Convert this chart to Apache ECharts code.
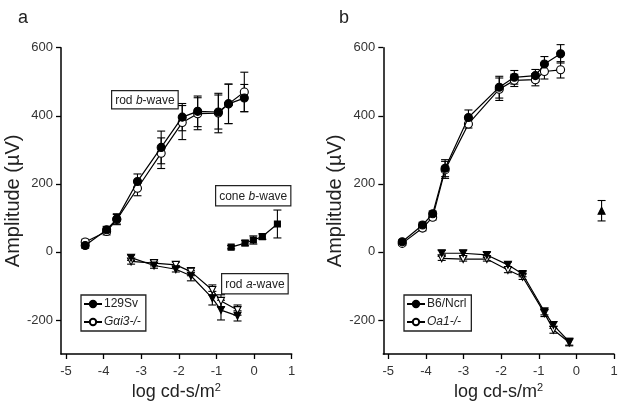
<!DOCTYPE html>
<html><head><meta charset="utf-8">
<script src="https://cdn.jsdelivr.net/npm/echarts@6/dist/echarts.min.js"></script>
<style>html,body{margin:0;padding:0;background:#fff}#c{width:624px;height:413px}</style>
</head><body><div id="c"></div>
<script>
const xTicks = [-5, -4, -3, -2, -1, 0, 1];
const yTicks = [-200, 0, 200, 400, 600];

// Panel a
const aRodBX = [-4.49, -3.92, -3.65, -3.10, -2.47, -1.91, -1.50, -0.95, -0.68, -0.26];
const aRodBWT = [19, 65, 97, 207, 307, 396, 413, 411, 435, 452];
const aRodBWTErr = [8, 10, 15, 22, 48, 40, 45, 50, 58, 40];
const aRodBKO = [29, 60, 95, 187, 290, 380, 406, 408, 435, 470];
const aRodBKOErr = [8, 10, 15, 22, 45, 50, 47, 58, 58, 58];
const aRodAX = [-3.27, -2.66, -2.08, -1.68, -1.11, -0.88, -0.44];
const aRodAWT = [-17, -40, -51, -70, -136, -171, -188];
const aRodAWTErr = [8, 8, 8, 15, 20, 29, 15];
const aRodAKO = [-28, -33, -38, -58, -112, -144, -171];
const aRodAKOErr = [8, 8, 8, 12, 15, 18, 15];
const aConeX = [-0.61, -0.24, -0.02, 0.22, 0.62];
const aCone = [14, 26, 35, 45, 82];
const aConeErr = [5, 8, 12, 8, 41];

// Panel b
const bRodBX = [-4.63, -4.09, -3.82, -3.49, -2.87, -2.05, -1.65, -1.09, -0.85, -0.42];
const bRodBWT = [30, 79, 112, 246, 395, 484, 513, 518, 552, 582];
const bRodBWTErr = [5, 8, 8, 25, 22, 32, 20, 18, 22, 27];
const bRodBKO = [25, 70, 102, 241, 376, 478, 504, 506, 530, 535];
const bRodBKOErr = [5, 8, 8, 25, 12, 33, 18, 18, 22, 24];
const bRodAX = [-3.58, -3.01, -2.38, -1.82, -1.43, -0.85, -0.61, -0.19];
const bRodAWT = [-4, -4, -9, -38, -65, -175, -215, -264];
const bRodAWTErr = [8, 8, 8, 8, 8, 10, 10, 10];
const bRodAKO = [-19, -21, -21, -53, -73, -180, -229, -266];
const bRodAKOErr = [6, 6, 6, 8, 8, 10, 10, 10];
const bConeX = [0.67];
const bCone = [121];
const bConeErr = [30];

const FONT = 'Liberation Sans, Arial, sans-serif';

function errSeries(x, y, e, idx) {
  return {
    type: 'custom', xAxisIndex: idx, yAxisIndex: idx, silent: true, z: 1, animation: false,
    data: x.map((v, i) => [v, y[i] - e[i], y[i] + e[i]]),
    encode: {x: 0, y: [1, 2]},
    renderItem: (params, api) => {
      const lo = api.coord([api.value(0), api.value(1)]);
      const hi = api.coord([api.value(0), api.value(2)]);
      const w = 4;
      const st = {stroke: '#000', lineWidth: 1.1};
      return {type: 'group', children: [
        {type: 'line', shape: {x1: lo[0], y1: lo[1], x2: hi[0], y2: hi[1]}, style: st},
        {type: 'line', shape: {x1: lo[0] - w, y1: lo[1], x2: lo[0] + w, y2: lo[1]}, style: st},
        {type: 'line', shape: {x1: hi[0] - w, y1: hi[1], x2: hi[0] + w, y2: hi[1]}, style: st}
      ]};
    }
  };
}

function lineSeries(name, x, y, idx, symbol, filled, rotate, size) {
  return {
    type: 'line', name, xAxisIndex: idx, yAxisIndex: idx,
    data: x.map((v, i) => [v, y[i]]),
    symbol, symbolSize: size || 7, symbolRotate: rotate || 0, showSymbol: true,
    lineStyle: {color: '#000', width: 1.2},
    itemStyle: {color: filled ? '#000' : '#fff', borderColor: '#000', borderWidth: 1.1},
    z: filled ? 3 : 2, animation: false, silent: true
  };
}

function xAxis(idx) {
  return {
    type: 'value', gridIndex: idx, min: -5.133, max: 1,
    axisLine: {onZero: false, lineStyle: {color: '#000', width: 1.5}},
    axisTick: {customValues: xTicks, length: 5, lineStyle: {color: '#000', width: 1.3}},
    axisLabel: {customValues: xTicks, color: '#333', fontSize: 13, fontFamily: FONT, margin: 11},
    splitLine: {show: false},
    name: 'log cd-s/m{s|2}', nameLocation: 'middle', nameGap: 18,
    nameTextStyle: {color: '#222', fontSize: 18, fontFamily: FONT,
      rich: {s: {fontSize: 11, verticalAlign: 'top', padding: [0, 0, 8, 0], color: '#222', fontFamily: FONT}}}
  };
}
function yAxis(idx) {
  return {
    type: 'value', gridIndex: idx, min: -300, max: 600,
    axisLine: {onZero: false, lineStyle: {color: '#000', width: 1.5}},
    axisTick: {customValues: yTicks, length: 5, lineStyle: {color: '#000', width: 1.3}},
    axisLabel: {customValues: yTicks, color: '#333', fontSize: 13, fontFamily: FONT, margin: 8},
    splitLine: {show: false},
    name: 'Amplitude (µV)', nameLocation: 'middle', nameGap: 36,
    nameTextStyle: {color: '#222', fontSize: 20, fontFamily: FONT}
  };
}

function legendCfg(left, names) {
  return {
    left, top: 295, orient: 'vertical', itemWidth: 18, itemHeight: 8, itemGap: 6,
    padding: [3, 5, 3, 2], borderColor: '#222', borderWidth: 1.3,
    textStyle: {fontSize: 12, fontFamily: FONT, color: '#222', padding: [0, 0, 0, -3]},
    data: names, selectedMode: false
  };
}

const chart = echarts.init(document.getElementById('c'), null, {renderer: 'canvas'});
chart.setOption({
  backgroundColor: '#fff',
  animation: false,
  title: [
    {text: 'a', left: 13, top: 4, textStyle: {fontSize: 18, fontWeight: 'normal', fontFamily: FONT, color: '#222'}},
    {text: 'b', left: 334, top: 4, textStyle: {fontSize: 18, fontWeight: 'normal', fontFamily: FONT, color: '#222'}}
  ],
  grid: [
    {left: 61, top: 47.7, width: 230.7, height: 306.3},
    {left: 383.3, top: 47.7, width: 230.7, height: 306.3}
  ],
  xAxis: [xAxis(0), xAxis(1)],
  yAxis: [yAxis(0), yAxis(1)],
  legend: [
    legendCfg(81, [{name: '129Sv'}, {name: 'Gαi3-/-', textStyle: {fontStyle: 'italic'}}]),
    legendCfg(404, [{name: 'B6/Ncrl'}, {name: 'Oa1-/-', textStyle: {fontStyle: 'italic'}}])
  ],
  graphic: [
    {type: 'text', left: 111, top: 90, style: {text: 'rod {i|b}-wave', font: '12px ' + FONT, fill: '#222',
      rich: {i: {fontStyle: 'italic', fontSize: 12, fontFamily: FONT}},
      borderColor: '#222', borderWidth: 1.2, padding: [3, 3, 2, 3], backgroundColor: '#fff'}},
    {type: 'text', left: 215, top: 185, style: {text: 'cone {i|b}-wave', font: '12px ' + FONT, fill: '#222',
      rich: {i: {fontStyle: 'italic', fontSize: 12, fontFamily: FONT}},
      borderColor: '#222', borderWidth: 1.2, padding: [4, 3, 3, 3], backgroundColor: '#fff'}},
    {type: 'text', left: 221, top: 273, style: {text: 'rod {i|a}-wave', font: '12px ' + FONT, fill: '#222',
      rich: {i: {fontStyle: 'italic', fontSize: 12, fontFamily: FONT}},
      borderColor: '#222', borderWidth: 1.2, padding: [4, 3, 3, 3], backgroundColor: '#fff'}}
  ],
  series: [
    errSeries(aRodBX, aRodBWT, aRodBWTErr, 0),
    errSeries(aRodBX, aRodBKO, aRodBKOErr, 0),
    errSeries(aRodAX, aRodAWT, aRodAWTErr, 0),
    errSeries(aRodAX, aRodAKO, aRodAKOErr, 0),
    errSeries(aConeX, aCone, aConeErr, 0),
    lineSeries('Gαi3-/-', aRodBX, aRodBKO, 0, 'circle', false, 0, 8),
    lineSeries('129Sv', aRodBX, aRodBWT, 0, 'circle', true, 0, 8),
    lineSeries('Gαi3-/- a-wave', aRodAX, aRodAKO, 0, 'triangle', false, 180),
    lineSeries('129Sv a-wave', aRodAX, aRodAWT, 0, 'triangle', true, 180),
    lineSeries('129Sv cone', aConeX, aCone, 0, 'rect', true, 0, 6),

    errSeries(bRodBX, bRodBWT, bRodBWTErr, 1),
    errSeries(bRodBX, bRodBKO, bRodBKOErr, 1),
    errSeries(bRodAX, bRodAWT, bRodAWTErr, 1),
    errSeries(bRodAX, bRodAKO, bRodAKOErr, 1),
    errSeries(bConeX, bCone, bConeErr, 1),
    lineSeries('Oa1-/-', bRodBX, bRodBKO, 1, 'circle', false, 0, 8),
    lineSeries('B6/Ncrl', bRodBX, bRodBWT, 1, 'circle', true, 0, 8),
    lineSeries('Oa1-/- a-wave', bRodAX, bRodAKO, 1, 'triangle', false, 180),
    lineSeries('B6/Ncrl a-wave', bRodAX, bRodAWT, 1, 'triangle', true, 180),
    lineSeries('B6/Ncrl cone', bConeX, bCone, 1, 'triangle', true)
  ]
});
</script></body></html>
